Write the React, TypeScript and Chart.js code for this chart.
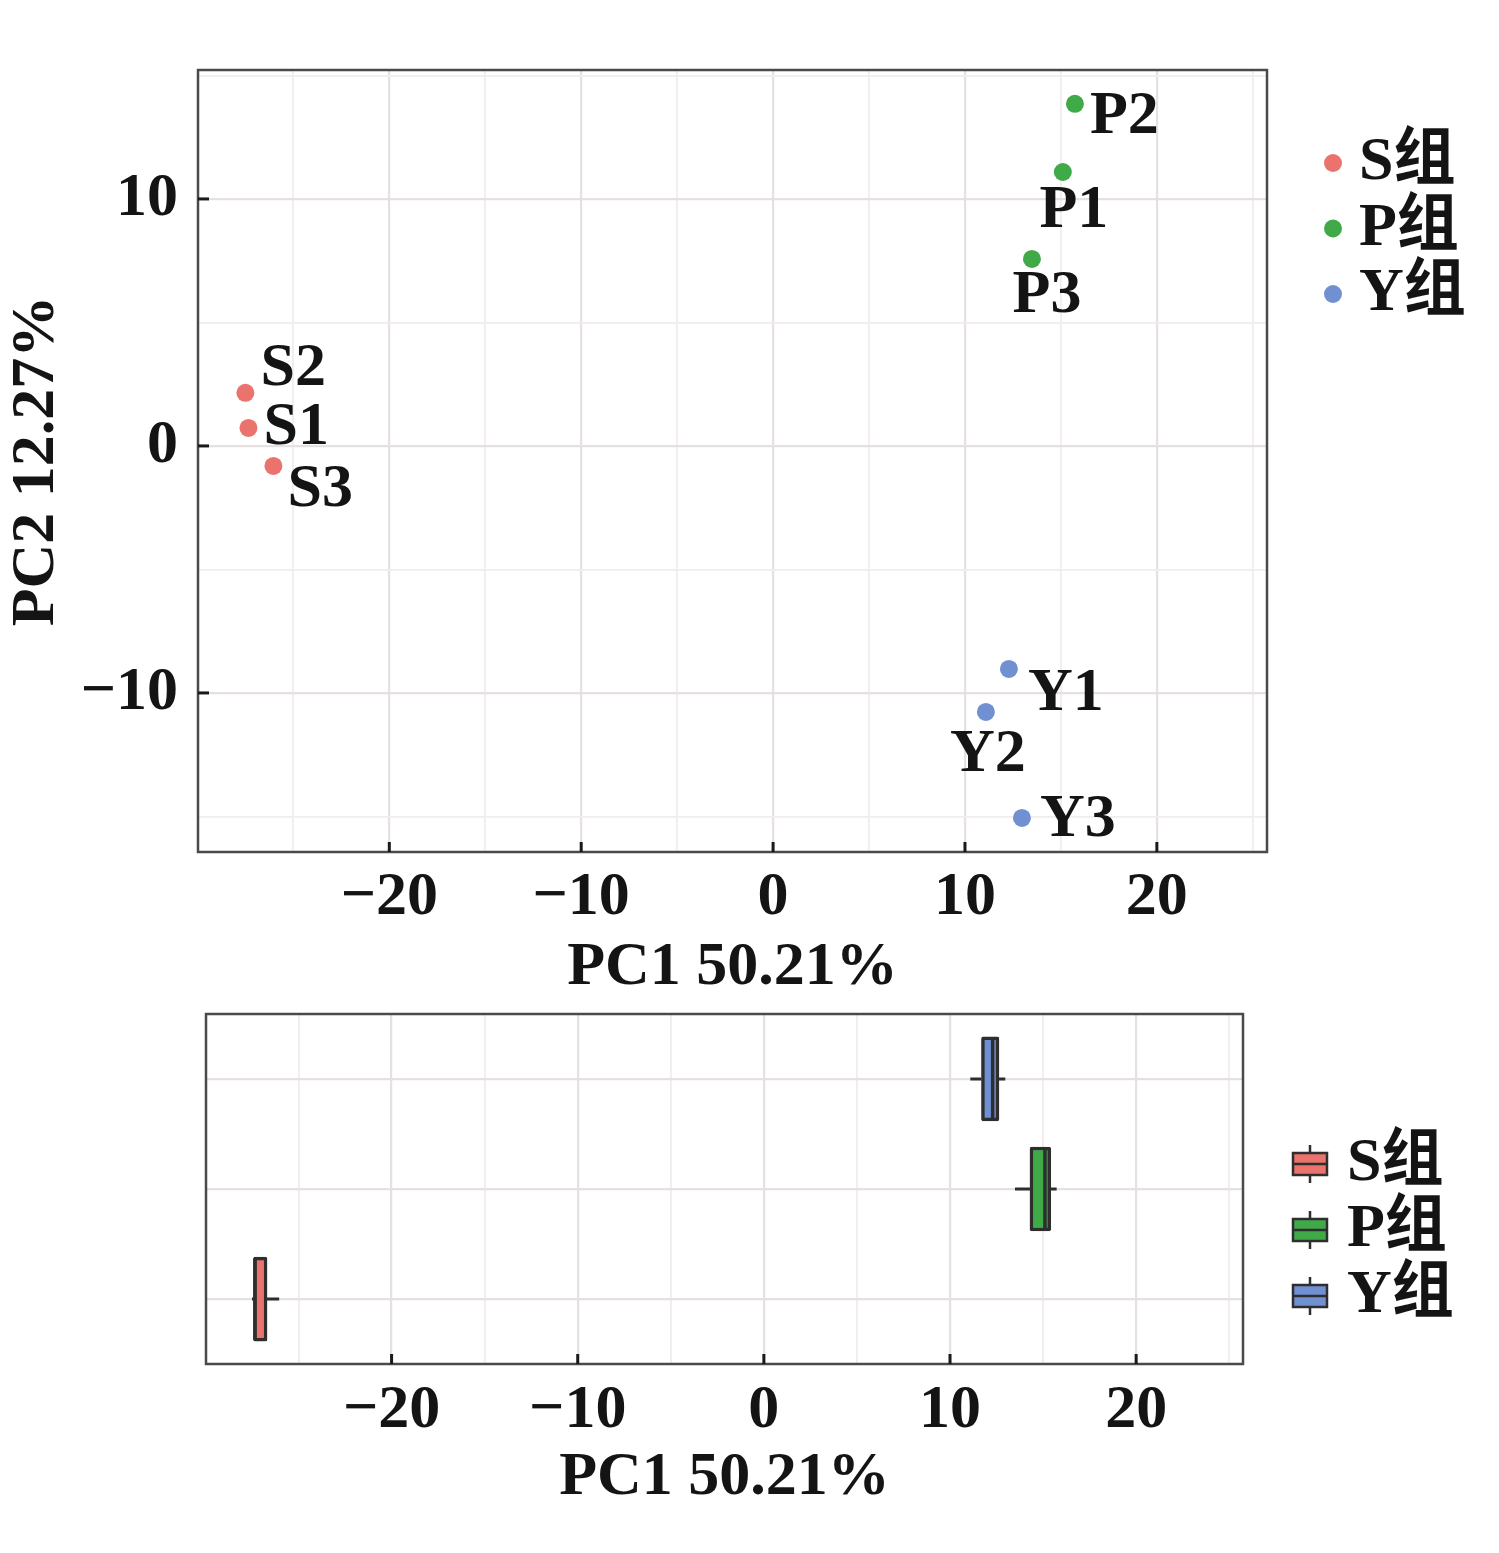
import React, { useEffect, useRef } from 'react';
import { Chart, registerables } from 'chart.js';

Chart.register(...registerables);

// ---------- data ----------
const groups = ['S组', 'P组', 'Y组'];
const groupColors = ['#ea736d', '#40aa49', '#7090d2'];
const sampleNames = [
  ['S1', 'S2', 'S3'],
  ['P1', 'P2', 'P3'],
  ['Y1', 'Y2', 'Y3'],
];
const pc1Values = [
  [-27.34, -27.5, -26.04],
  [15.1, 15.73, 13.49],
  [12.29, 11.09, 12.97],
];
const pc2Values = [
  [0.73, 2.15, -0.81],
  [11.09, 13.85, 7.57],
  [-9.03, -10.77, -15.06],
];
const boxRows = [1, 2, 3]; // S bottom, P middle, Y top
const xTickValues = [-20, -10, 0, 10, 20];
const yTickValues = [-10, 0, 10];
const xTitle = 'PC1 50.21%';
const yTitle = 'PC2 12.27%';

// ---------- styles ----------
const FONT_FAMILY = "'Liberation Serif', 'Noto Sans CJK SC', serif";
const TEXT_COLOR = '#141414';
const GRID_MAJOR = '#e6e0de';
const GRID_MINOR = '#f0edec';
const FRAME = '#4a4a4a';
const X_MIN = -29.97;
const X_MAX = 25.74;

const labelPlacement: Record<string, { dx: number; dy: number; align: CanvasTextAlign }> = {
  S1: { dx: 15, dy: 0, align: 'left' },
  S2: { dx: 15, dy: -24, align: 'left' },
  S3: { dx: 14, dy: 24, align: 'left' },
  P1: { dx: 11, dy: 39, align: 'center' },
  P2: { dx: 15, dy: 13, align: 'left' },
  P3: { dx: 15, dy: 37, align: 'center' },
  Y1: { dx: 19, dy: 25, align: 'left' },
  Y2: { dx: 2, dy: 43, align: 'center' },
  Y3: { dx: 18, dy: 2, align: 'left' },
};

const fmt = (v: number) => (v < 0 ? '\u2212' + Math.abs(v) : String(v));

function quantile(sorted: number[], p: number) {
  const h = (sorted.length - 1) * p;
  const lo = Math.floor(h);
  const hi = Math.ceil(h);
  return sorted[lo] + (h - lo) * (sorted[hi] - sorted[lo]);
}

const boxStats = pc1Values.map((vals) => {
  const s = [...vals].sort((a, b) => a - b);
  return {
    min: s[0],
    q1: quantile(s, 0.25),
    med: quantile(s, 0.5),
    q3: quantile(s, 0.75),
    max: s[s.length - 1],
  };
});

const frameAndTicks = {
  id: 'frameAndTicks',
  afterDatasetsDraw(chart: any, _args: any, opts: any) {
    const { ctx, chartArea: a } = chart;
    ctx.save();
    ctx.strokeStyle = FRAME;
    ctx.lineWidth = 2.5;
    ctx.strokeRect(a.left, a.top, a.right - a.left, a.bottom - a.top);
    ctx.strokeStyle = '#1a1a1a';
    ctx.lineWidth = 3;
    (opts.x || []).forEach((v: number) => {
      const px = chart.scales.x.getPixelForValue(v);
      ctx.beginPath();
      ctx.moveTo(px, a.bottom);
      ctx.lineTo(px, a.bottom - 10);
      ctx.stroke();
    });
    (opts.y || []).forEach((v: number) => {
      const py = chart.scales.y.getPixelForValue(v);
      ctx.beginPath();
      ctx.moveTo(a.left, py);
      ctx.lineTo(a.left + 11, py);
      ctx.stroke();
    });
    ctx.restore();
  },
};

const pointLabels = {
  id: 'pointLabels',
  afterDatasetsDraw(chart: any) {
    const { ctx } = chart;
    ctx.save();
    ctx.font = `bold 62px ${FONT_FAMILY}`;
    ctx.fillStyle = TEXT_COLOR;
    ctx.textBaseline = 'middle';
    chart.data.datasets.forEach((ds: any, di: number) => {
      const meta = chart.getDatasetMeta(di);
      meta.data.forEach((el: any, i: number) => {
        const name = ds.names[i];
        const p = labelPlacement[name];
        ctx.textAlign = p.align;
        ctx.fillText(name, el.x + p.dx, el.y + p.dy);
      });
    });
    ctx.restore();
  },
};

const scatterLegend = {
  id: 'scatterLegend',
  afterDraw(chart: any) {
    const { ctx, chartArea: a } = chart;
    ctx.save();
    ctx.font = `bold 62px ${FONT_FAMILY}`;
    ctx.fillStyle = TEXT_COLOR;
    ctx.textBaseline = 'middle';
    ctx.textAlign = 'left';
    chart.data.datasets.forEach((ds: any, i: number) => {
      const cy = a.top + 93 + i * 65.5;
      ctx.beginPath();
      ctx.fillStyle = ds.backgroundColor;
      ctx.arc(a.right + 66, cy, 9, 0, Math.PI * 2);
      ctx.fill();
      ctx.fillStyle = TEXT_COLOR;
      ctx.fillText(ds.label, a.right + 92, cy);
    });
    ctx.restore();
  },
};

const boxExtras = {
  id: 'boxExtras',
  beforeDatasetsDraw(chart: any) {
    const { ctx } = chart;
    const xs = chart.scales.x;
    const ys = chart.scales.y;
    ctx.save();
    ctx.strokeStyle = '#2e2e2e';
    ctx.lineWidth = 3;
    chart.data.datasets.forEach((ds: any) => {
      const st = ds.stats;
      const py = ys.getPixelForValue(ds.row);
      ctx.beginPath();
      ctx.moveTo(xs.getPixelForValue(st.min), py);
      ctx.lineTo(xs.getPixelForValue(st.q1), py);
      ctx.moveTo(xs.getPixelForValue(st.q3), py);
      ctx.lineTo(xs.getPixelForValue(st.max), py);
      ctx.stroke();
    });
    ctx.restore();
  },
  afterDatasetsDraw(chart: any) {
    const { ctx } = chart;
    const xs = chart.scales.x;
    const ys = chart.scales.y;
    ctx.save();
    ctx.strokeStyle = '#2e2e2e';
    ctx.lineWidth = 3.5;
    chart.data.datasets.forEach((ds: any) => {
      const py = ys.getPixelForValue(ds.row);
      const px = xs.getPixelForValue(ds.stats.med);
      ctx.beginPath();
      ctx.moveTo(px, py - 41);
      ctx.lineTo(px, py + 41);
      ctx.stroke();
    });
    ctx.restore();
  },
  afterDraw(chart: any) {
    const { ctx, chartArea: a } = chart;
    ctx.save();
    ctx.font = `bold 62px ${FONT_FAMILY}`;
    ctx.textBaseline = 'middle';
    ctx.textAlign = 'left';
    chart.data.datasets.forEach((ds: any, i: number) => {
      const cy = a.top + 150 + i * 66;
      const cx = a.right + 67;
      ctx.strokeStyle = '#2e2e2e';
      ctx.lineWidth = 2.5;
      ctx.beginPath();
      ctx.moveTo(cx, cy - 19);
      ctx.lineTo(cx, cy - 11);
      ctx.moveTo(cx, cy + 11);
      ctx.lineTo(cx, cy + 19);
      ctx.stroke();
      ctx.fillStyle = ds.backgroundColor;
      ctx.fillRect(cx - 17, cy - 11, 34, 22);
      ctx.strokeRect(cx - 17, cy - 11, 34, 22);
      ctx.beginPath();
      ctx.moveTo(cx - 17, cy);
      ctx.lineTo(cx + 17, cy);
      ctx.stroke();
      ctx.fillStyle = TEXT_COLOR;
      ctx.fillText(ds.label, a.right + 104, cy);
    });
    ctx.restore();
  },
};

const tickFont = { family: FONT_FAMILY, size: 62, weight: 'bold' as const, lineHeight: 1.2 };
const titleFont = { family: FONT_FAMILY, size: 62, weight: 'bold' as const, lineHeight: 1 };

function gridColor(list: number[]) {
  return (c: any) => (c.tick && list.includes(c.tick.value) ? GRID_MAJOR : GRID_MINOR);
}
function gridWidth(list: number[]) {
  return (c: any) => (c.tick && list.includes(c.tick.value) ? 2.2 : 1.8);
}

export default function App() {
  const topRef = useRef<HTMLCanvasElement>(null);
  const bottomRef = useRef<HTMLCanvasElement>(null);

  useEffect(() => {
    const top = new Chart(topRef.current as HTMLCanvasElement, {
      type: 'scatter',
      data: {
        datasets: groups.map((g, gi) => ({
          label: g,
          names: sampleNames[gi],
          data: pc1Values[gi].map((x, i) => ({ x, y: pc2Values[gi][i] })),
          backgroundColor: groupColors[gi],
          borderWidth: 0,
          pointRadius: 9,
        })) as any,
      },
      options: {
        animation: false,
        responsive: false,
        layout: { padding: { top: 70, right: 232, left: 0, bottom: 0 } },
        plugins: {
          legend: { display: false },
          tooltip: { enabled: false },
          frameAndTicks: { x: xTickValues, y: yTickValues },
        } as any,
        scales: {
          x: {
            type: 'linear',
            min: X_MIN,
            max: X_MAX,
            afterFit: (s: any) => { s.height = 148; },
            border: { display: false },
            grid: { color: gridColor(xTickValues), lineWidth: gridWidth(xTickValues), drawTicks: false },
            ticks: {
              stepSize: 5,
              includeBounds: false,
              autoSkip: false,
              maxRotation: 0,
              padding: 9,
              color: TEXT_COLOR,
              font: tickFont,
              callback: (v: any) => (xTickValues.includes(v) ? fmt(v) : ''),
            },
            title: { display: true, text: xTitle, color: TEXT_COLOR, font: titleFont, padding: { top: 0, bottom: 1 } },
          },
          y: {
            type: 'linear',
            min: -16.44,
            max: 15.22,
            afterFit: (s: any) => { s.width = 198; },
            border: { display: false },
            grid: { color: gridColor(yTickValues), lineWidth: gridWidth(yTickValues), drawTicks: false },
            ticks: {
              stepSize: 5,
              includeBounds: false,
              autoSkip: false,
              padding: 20,
              color: TEXT_COLOR,
              font: tickFont,
              callback: (v: any) => (yTickValues.includes(v) ? fmt(v) : ''),
            },
            title: { display: true, text: yTitle, color: TEXT_COLOR, font: titleFont, padding: { top: 6, bottom: 0 } },
          },
        },
      } as any,
      plugins: [frameAndTicks, pointLabels, scatterLegend],
    });

    const bottom = new Chart(bottomRef.current as HTMLCanvasElement, {
      type: 'bar',
      data: {
        datasets: groups.map((g, gi) => ({
          label: g,
          row: boxRows[gi],
          stats: boxStats[gi],
          data: [{ x: [boxStats[gi].q1, boxStats[gi].q3], y: boxRows[gi] }],
          backgroundColor: groupColors[gi],
          borderColor: '#2e2e2e',
          borderWidth: 3.5,
          borderSkipped: false,
          borderRadius: 2,
          barThickness: 84,
          grouped: false,
        })) as any,
      },
      options: {
        animation: false,
        responsive: false,
        indexAxis: 'y',
        layout: { padding: { top: 14, right: 256, left: 0, bottom: 0 } },
        plugins: {
          legend: { display: false },
          tooltip: { enabled: false },
          frameAndTicks: { x: xTickValues, y: [] },
        } as any,
        scales: {
          x: {
            type: 'linear',
            min: X_MIN,
            max: X_MAX,
            afterFit: (s: any) => { s.height = 189; },
            border: { display: false },
            grid: { color: gridColor(xTickValues), lineWidth: gridWidth(xTickValues), drawTicks: false },
            ticks: {
              stepSize: 5,
              includeBounds: false,
              autoSkip: false,
              maxRotation: 0,
              padding: 10,
              color: TEXT_COLOR,
              font: tickFont,
              callback: (v: any) => (xTickValues.includes(v) ? fmt(v) : ''),
            },
            title: { display: true, text: xTitle, color: TEXT_COLOR, font: titleFont, padding: { top: 0, bottom: 44 } },
          },
          y: {
            type: 'linear',
            min: 0.41,
            max: 3.59,
            offset: false,
            afterFit: (s: any) => { s.width = 206; },
            border: { display: false },
            grid: { color: GRID_MAJOR, lineWidth: 2.2, drawTicks: false, offset: false },
            ticks: { stepSize: 1, includeBounds: false, display: false },
          },
        },
      } as any,
      plugins: [frameAndTicks, boxExtras],
    });

    return () => {
      top.destroy();
      bottom.destroy();
    };
  }, []);

  return (
    <div style={{ position: 'absolute', left: 0, top: 0, width: 1499, height: 1553, background: '#fff' }}>
      <canvas ref={topRef} width={1499} height={1000} style={{ position: 'absolute', left: 0, top: 0, display: 'block' }} />
      <canvas ref={bottomRef} width={1499} height={553} style={{ position: 'absolute', left: 0, top: 1000, display: 'block' }} />
    </div>
  );
}
